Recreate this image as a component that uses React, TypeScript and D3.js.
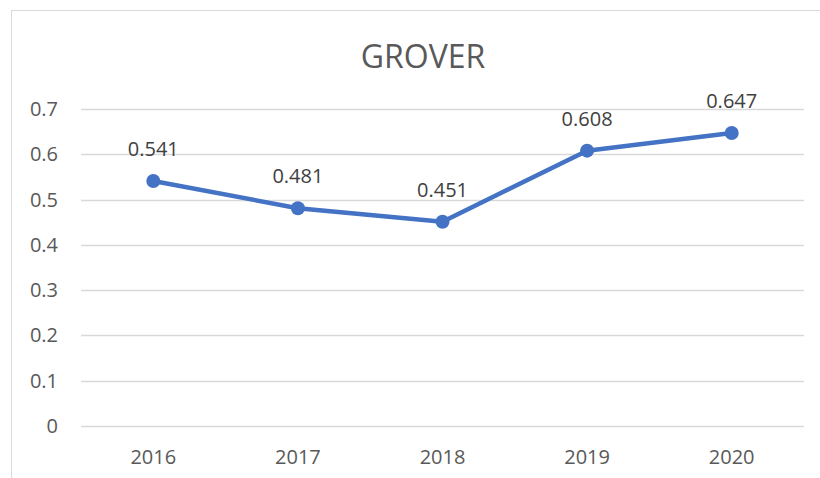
import * as d3 from "d3";
import React from "react";
import { useRef, useEffect } from "react";

// data
const years = ["2016", "2017", "2018", "2019", "2020"];
const values = [0.541, 0.481, 0.451, 0.608, 0.647];
const yTicks = [0, 0.1, 0.2, 0.3, 0.4, 0.5, 0.6, 0.7];

const W = 820;
const H = 478;
const FONT = "'Open Sans', 'Liberation Sans', sans-serif";

const LineChart = () => {
  const ref = useRef<SVGSVGElement>(null);

  useEffect(() => {
    const svg = d3.select(ref.current);
    svg.selectAll("*").remove();

    const left = 81, right = 804, top = 109, bottom = 426;

    // chart frame
    svg.append("rect")
      .attr("x", 11.5).attr("y", 10.5)
      .attr("width", W + 10).attr("height", H + 10)
      .attr("fill", "#fff")
      .attr("stroke", "#d9d9d9");

    const x = d3.scaleBand().domain(years).range([left, right]);
    const y = d3.scaleLinear().domain([0, 0.7]).range([bottom, top]);

    // gridlines
    svg.append("g").selectAll("line").data(yTicks).enter().append("line")
      .attr("x1", left).attr("x2", right)
      .attr("y1", (d) => Math.round(y(d)) + 0.5)
      .attr("y2", (d) => Math.round(y(d)) + 0.5)
      .attr("stroke", "#d9d9d9")
      .attr("stroke-width", 1.5);

    // y tick labels
    svg.append("g").selectAll("text").data(yTicks).enter().append("text")
      .attr("x", 58).attr("y", (d) => y(d) + 7)
      .attr("text-anchor", "end")
      .attr("fill", "#595959")
      .style("font-family", FONT).style("font-size", "20px")
      .text((d) => (d === 0 ? "0" : d3.format(".1f")(d)));

    // x labels
    svg.append("g").selectAll("text").data(years).enter().append("text")
      .attr("x", (d) => x(d)! + x.bandwidth() / 2)
      .attr("y", 464)
      .attr("text-anchor", "middle")
      .attr("fill", "#595959")
      .style("font-family", FONT).style("font-size", "20px")
      .text((d) => d);

    // title
    svg.append("text")
      .attr("x", 423).attr("y", 68)
      .attr("text-anchor", "middle")
      .attr("fill", "#595959")
      .style("font-family", FONT).style("font-size", "32px")
      .text("GROVER");

    const pts = years.map((yr, i) => ({ yr, v: values[i] }));
    const line = d3.line<{ yr: string; v: number }>()
      .x((d) => x(d.yr)! + x.bandwidth() / 2)
      .y((d) => y(d.v));

    svg.append("path")
      .datum(pts)
      .attr("d", line)
      .attr("fill", "none")
      .attr("stroke", "#4472c4")
      .attr("stroke-width", 4.5)
      .attr("stroke-linejoin", "round");

    svg.append("g").selectAll("circle").data(pts).enter().append("circle")
      .attr("cx", (d) => x(d.yr)! + x.bandwidth() / 2)
      .attr("cy", (d) => y(d.v))
      .attr("r", 7)
      .attr("fill", "#4472c4");

    // value labels
    svg.append("g").selectAll("text").data(pts).enter().append("text")
      .attr("x", (d) => x(d.yr)! + x.bandwidth() / 2)
      .attr("y", (d) => y(d.v) - 25)
      .attr("text-anchor", "middle")
      .attr("fill", "#404040")
      .style("font-family", FONT).style("font-size", "20px")
      .text((d) => d3.format(".3f")(d.v));
  }, []);

  return (
    <svg
      ref={ref}
      width={W}
      height={H}
      style={{ position: "absolute", left: 0, top: 0, background: "#fff" }}
    />
  );
};

export default function App() {
  return <LineChart />;
}
